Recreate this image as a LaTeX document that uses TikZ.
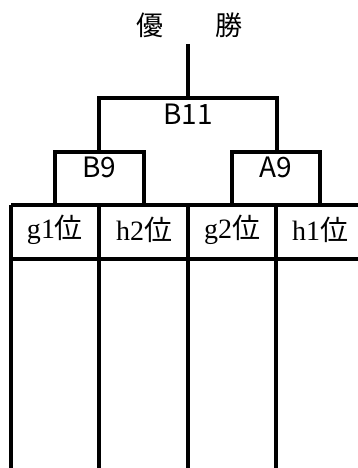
\documentclass[tikz,border=0pt]{standalone}
\usepackage{fontspec}
\setmainfont{Liberation Serif}
\newfontfamily\jpgoth{Noto Sans CJK JP}
\usetikzlibrary{positioning}

\begin{document}
\begin{tikzpicture}[x=1pt,y=-1pt,line width=3.5pt,
    title/.style={font=\jpgoth\fontsize{27}{27}\selectfont,inner sep=0pt},
    match/.style={font=\jpgoth\fontsize{28}{28}\selectfont,inner sep=0pt},
    seed/.style={font=\fontsize{28}{28}\selectfont,inner sep=0pt}]
    \useasboundingbox (0,0) rectangle (358,468);
    % final
    \node[title] (win1) at (150,25) {優};
    \node[title] (win2) at (229,25) {勝};
    \coordinate (stem) at (188,44);
    \coordinate (final) at (188,98);
    \coordinate (finL) at (99,98);
    \coordinate (finR) at (277,98);
    \node[match] (B11) at (188,114) {B11};
    \draw (stem) -- (final);
    \draw (99,152) -- (finL) -- (finR) -- (277,152);
    % semifinals
    \node[match] (B9) at (99,167) {B9};
    \node[match] (A9) at (276,167) {A9};
    \draw (55,205) -- (55,152) -- (144,152) -- (144,205);
    \draw (232,205) -- (232,152) -- (320,152) -- (320,205);
    % seeds
    \node[seed] (g1) at (55,230) {g1{\jpgoth 位}};
    \node[seed] (h2) at (144,230) {h2{\jpgoth 位}};
    \node[seed] (g2) at (232,230) {g2{\jpgoth 位}};
    \node[seed] (h1) at (320,230) {h1{\jpgoth 位}};
    \draw (11,205) -- (358,205);
    \draw (11,259) -- (358,259);
    \foreach \x in {11,99,188,276}
        \draw (\x,205) -- (\x,468);
\end{tikzpicture}
\end{document}
